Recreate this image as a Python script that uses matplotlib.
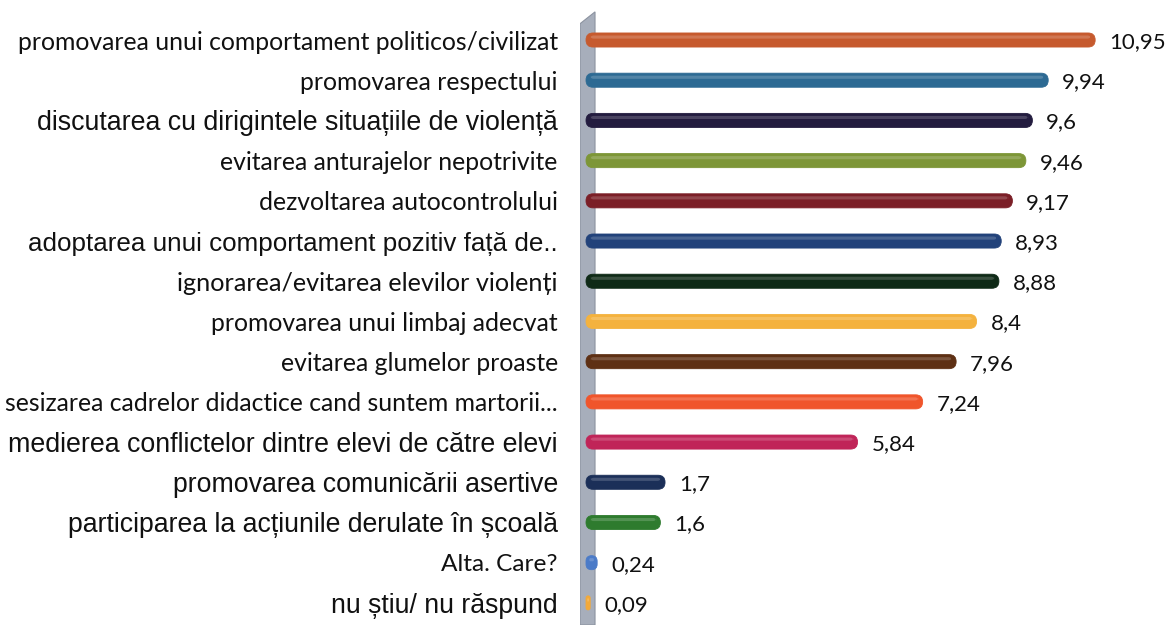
import matplotlib
matplotlib.use("Agg")
import matplotlib.pyplot as plt
from matplotlib.patches import FancyBboxPatch, Polygon

categories = [
    "promovarea unui comportament politicos/civilizat",
    "promovarea respectului",
    "discutarea cu dirigintele situațiile de violență",
    "evitarea anturajelor nepotrivite",
    "dezvoltarea autocontrolului",
    "adoptarea unui comportament pozitiv față de..",
    "ignorarea/evitarea elevilor violenți",
    "promovarea unui limbaj adecvat",
    "evitarea glumelor proaste",
    "sesizarea cadrelor didactice cand suntem martorii...",
    "medierea conflictelor dintre elevi de către elevi",
    "promovarea comunicării asertive",
    "participarea la acțiunile derulate în școală",
    "Alta. Care?",
    "nu știu/ nu răspund",
]
values = [10.95, 9.94, 9.6, 9.46, 9.17, 8.93, 8.88, 8.4, 7.96, 7.24, 5.84, 1.7, 1.6, 0.24, 0.09]
value_labels = ["10,95", "9,94", "9,6", "9,46", "9,17", "8,93", "8,88", "8,4",
                "7,96", "7,24", "5,84", "1,7", "1,6", "0,24", "0,09"]
colors = ["#C65A2E", "#2D6A93", "#231C3F", "#7D9637", "#7B1F27", "#22427A",
          "#0F2A17", "#F4B23E", "#5E3014", "#F0552B", "#C02458", "#1B2F58",
          "#2E7B2E", "#4B7BC8", "#F2A93A"]
arial_style = [False, False, True, False, False, True, False, False, False,
               False, True, True, True, False, True]
label_sizes = [17.8, 17.8, 19.3, 17.8, 17.8, 18.7, 18.2, 17.8, 17.8,
               17.8, 19.3, 19.2, 19.2, 17.6, 19.2]

W, H = 1169, 625
fig = plt.figure(figsize=(W / 100, H / 100), dpi=100)
fig.patch.set_facecolor("white")
ax = fig.add_axes([580 / W, 0, 1 - 580 / W, 1])
ax.set_facecolor("none")

px_per_unit = 46.5
ax.set_xlim((580 - 586) / px_per_unit, (1169 - 586) / px_per_unit)
ax.set_ylim(14.55, -0.995)

# axis "wall"
wall = Polygon([(0.0, 0.0), (0.0, 0.962), (0.0255, 0.981), (0.0255, 0.0)],
               closed=True, transform=ax.transAxes, facecolor="#A7AEBB",
               edgecolor="#8C93A0", lw=0.8, zorder=1)
ax.add_patch(wall)

bar_h = 0.35
rx = 7 / px_per_unit
ry = 7 / 40.2
aspect = ry / rx
for i, (v, c) in enumerate(zip(values, colors)):
    r = min(rx, v / 2)
    p = FancyBboxPatch((0, i - bar_h / 2), v, bar_h,
                       boxstyle=f"round,pad=0,rounding_size={r}",
                       mutation_aspect=aspect, facecolor=c,
                       edgecolor=c, lw=0.6, zorder=3)
    ax.add_patch(p)
    # highlight strip
    hl_w = max(v - r * 1.2, 0.001)
    hl = FancyBboxPatch((r * 0.6, i - bar_h * 0.32), hl_w, bar_h * 0.22,
                        boxstyle=f"round,pad=0,rounding_size={min(r, hl_w / 2) * 0.5}",
                        mutation_aspect=aspect, facecolor="white", alpha=0.18,
                        edgecolor="none", zorder=4)
    ax.add_patch(hl)
    ax.annotate(value_labels[i], xy=(v, i), xytext=(10, -1.5), textcoords="offset points",
                ha="left", va="center", fontsize=16, family="Lato",
                color="#111111", zorder=5)

ax.set_yticks(range(len(categories)))
ax.set_yticklabels(categories)
for lbl, is_arial, fs in zip(ax.get_yticklabels(), arial_style, label_sizes):
    lbl.set_fontfamily("Liberation Sans" if is_arial else "Lato")
    lbl.set_fontsize(fs)
    lbl.set_color("#111111")
ax.tick_params(axis="y", length=0, pad=16)
ax.set_xticks([])
for s in ax.spines.values():
    s.set_visible(False)

fig.savefig("out.png", dpi=100, facecolor="white")
